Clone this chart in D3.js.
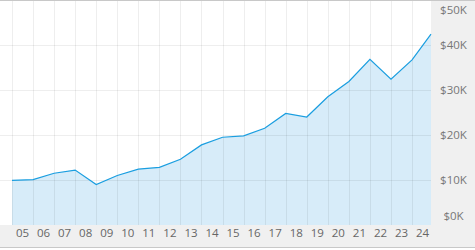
<!DOCTYPE html>
<html>
<head>
<meta charset="utf-8">
<script src="https://cdn.jsdelivr.net/npm/d3@7"></script>
<style>
  html, body { margin: 0; padding: 0; background: #fff; }
  svg { display: block; }
  text { font-family: "Open Sans", "DejaVu Sans", sans-serif; }
</style>
</head>
<body>
<svg id="chart" width="475" height="250"></svg>
<script>
// Data
const dates = [2005, 2006, 2007, 2008, 2009, 2010, 2011, 2012, 2013, 2014, 2015,
               2016, 2017, 2018, 2019, 2020, 2021, 2022, 2023, 2024, 2024.9];
const values = [9900, 10100, 11500, 12200, 9000, 11000, 12400, 12800, 14600, 17800, 19500,
                19800, 21500, 24800, 24000, 28500, 31900, 36800, 32400, 36700, 42400];
const yearTicks = [2005, 2006, 2007, 2008, 2009, 2010, 2011, 2012, 2013, 2014,
                   2015, 2016, 2017, 2018, 2019, 2020, 2021, 2022, 2023, 2024];
const yearLabels = ["05","06","07","08","09","10","11","12","13","14",
                    "15","16","17","18","19","20","21","22","23","24"];
const yTicks = [0, 10000, 20000, 30000, 40000, 50000];
const yLabels = ["$0K", "$10K", "$20K", "$30K", "$40K", "$50K"];

const W = 475, H = 250;
const plot = { left: 0, right: 431, top: 0, bottom: 225 };

const svg = d3.select("#chart");

const x = d3.scaleLinear().domain([2004.43, 2024.9]).range([plot.left, plot.right]);
const y = d3.scaleLinear().domain([0, 50000]).range([plot.bottom, plot.top]);

// backgrounds
svg.append("rect").attr("x", plot.right).attr("y", 0).attr("width", W - plot.right).attr("height", H)
  .attr("fill", "#f0f0f0");
svg.append("rect").attr("x", 0).attr("y", plot.bottom).attr("width", W).attr("height", 248 - plot.bottom)
  .attr("fill", "#f0f0f0");
svg.append("rect").attr("x", 0).attr("y", 248).attr("width", W).attr("height", 2).attr("fill", "#fff");

const data = dates.map((d, i) => ({ d, v: values[i] }));

// area
svg.append("path").datum(data)
  .attr("fill", "#d7ecf9")
  .attr("d", d3.area().x(p => x(p.d)).y0(plot.bottom).y1(p => y(p.v)));

// grid (drawn over area)
const grid = svg.append("g");
yearTicks.forEach(t => {
  grid.append("line")
    .attr("x1", Math.round(x(t)) + 0.5).attr("x2", Math.round(x(t)) + 0.5)
    .attr("y1", plot.top).attr("y2", plot.bottom)
    .attr("stroke", "rgba(0,0,0,0.065)").attr("stroke-width", 1);
});
yTicks.slice(1, 5).forEach(t => {
  grid.append("line")
    .attr("x1", plot.left).attr("x2", plot.right)
    .attr("y1", Math.round(y(t)) + 0.5).attr("y2", Math.round(y(t)) + 0.5)
    .attr("stroke", "rgba(0,0,0,0.065)").attr("stroke-width", 1);
});

// line
svg.append("path").datum(data)
  .attr("fill", "none")
  .attr("stroke", "#1a9ee0")
  .attr("stroke-width", 1.2)
  .attr("d", d3.line().x(p => x(p.d)).y(p => y(p.v)));

// top border & bottom border
svg.append("line").attr("x1", 0).attr("x2", W).attr("y1", 0.5).attr("y2", 0.5)
  .attr("stroke", "#c8c8c8");
svg.append("line").attr("x1", 0).attr("x2", W).attr("y1", 247.5).attr("y2", 247.5)
  .attr("stroke", "#c8c8c8");

// x labels
yearTicks.forEach((t, i) => {
  svg.append("text")
    .attr("x", (x(t) + x(t + 1)) / 2)
    .attr("y", 237)
    .attr("text-anchor", "middle")
    .attr("font-size", 11.5)
    .attr("fill", "#666")
    .text(yearLabels[i]);
});

// y labels
yTicks.forEach((t, i) => {
  let yy = y(t);
  if (i === 0) yy = 216;
  if (i === yTicks.length - 1) yy = 10;
  svg.append("text")
    .attr("x", 453.5)
    .attr("y", yy)
    .attr("dy", "0.35em")
    .attr("text-anchor", "middle")
    .attr("font-size", 11.5)
    .attr("fill", "#777")
    .text(yLabels[i]);
});
</script>
</body>
</html>
